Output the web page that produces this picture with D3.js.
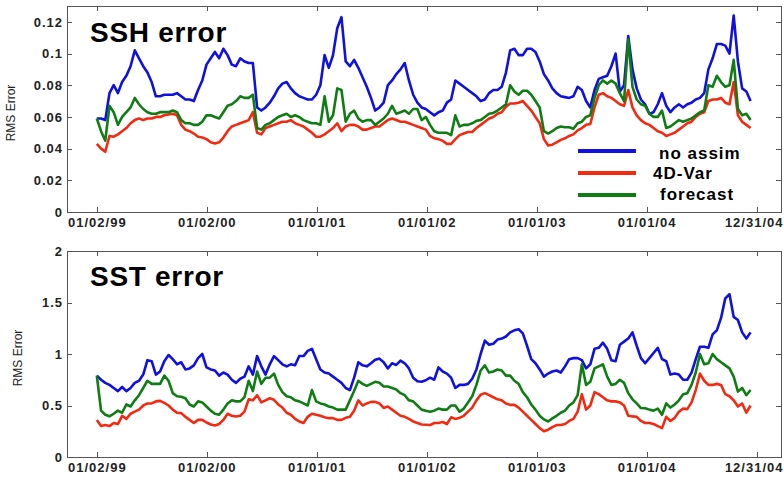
<!DOCTYPE html>
<meta charset='utf-8'>
<style>
    body {
        margin: 0;
        background: #fff;
    }

    svg {
        display: block;
        font-family: 'Liberation Sans', Arial, sans-serif;
    }

    .axis text {
        font-size: 13px;
        font-weight: bold;
        fill: #222;
        letter-spacing: 1px;
    }

    .axis line {
        stroke: #555;
        shape-rendering: crispEdges;
    }

    .axis path {
        display: none;
    }

    .frame {
        fill: none;
        stroke: #555;
        shape-rendering: crispEdges;
    }

    .series {
        fill: none;
        stroke-width: 2.6;
        stroke-linejoin: round;
    }
</style>
<body>
    <script src='https://d3js.org/d3.v7.min.js'></script>
    <script>
        // samples are two weeks apart, first one on 01/02/99
        const startDate = '1999-01-02', stepDays = 14;

        const tickDates = [ '1999-01-02', '2000-01-02', '2001-01-01', '2002-01-01', '2003-01-01', '2004-01-01', '2004-12-31' ];
        const tickLabels = [ '01/02/99', '01/02/00', '01/01/01', '01/01/02', '01/01/03', '01/01/04', '12/31/04' ];

        const sshTicks = [ 0, 0.02, 0.04, 0.06, 0.08, 0.1, 0.12 ];
        const sshTickLabels = [ '0', '0.02', '0.04', '0.06', '0.08', '0.1', '0.12' ];
        const sstTicks = [ 0, 0.5, 1, 1.5, 2 ];
        const sstTickLabels = [ '0', '0.5', '1', '1.5', '2' ];

        const seriesNames = [ 'no assim', '4D-Var', 'forecast' ];
        const seriesColors = {
            'no assim': '#1010e0',
            '4D-Var': '#f22a12',
            'forecast': '#0f7d13',
        };

        const sshNoAssim = [
            .059, .059, .058, .075, .080, .075, .082, .086, .092, .102,
            .097, .092, .088, .082, .073, .073, .074, .074, .074, .075,
            .073, .071, .071, .070, .077, .083, .093, .097, .101, .097,
            .103, .099, .093, .092, .097, .095, .094, .094, .066, .064,
            .066, .069, .073, .078, .081, .082, .078, .075, .073, .072,
            .071, .071, .074, .080, .099, .091, .099, .116, .123, .095,
            .092, .096, .091, .085, .079, .072, .064, .066, .069, .080,
            .083, .087, .090, .094, .083, .074, .069, .066, .065, .063,
            .061, .063, .064, .069, .071, .083, .081, .079, .077, .075,
            .073, .070, .071, .075, .077, .077, .079, .088, .102, .103,
            .099, .099, .103, .103, .101, .095, .087, .083, .078, .075,
            .073, .0725, .072, .073, .079, .077, .070, .066, .077, .084,
            .085, .086, .092, .100, .076, .080, .111, .090, .078, .071,
            .068, .062, .063, .068, .075, .067, .063, .066, .068, .066,
            .068, .069, .071, .072, .075, .090, .097, .106, .106, .105,
            .100, .124, .095, .078, .076, .070
        ];
        const sshFourDVar = [
            .043, .040, .038, .048, .0475, .049, .051, .053, .056, .058,
            .059, .058, .059, .059, .060, .060, .061, .0615, .062, .061,
            .055, .052, .051, .0495, .0475, .047, .046, .044, .0433, .044,
            .047, .051, .054, .055, .056, .057, .058, .063, .050, .049,
            .053, .054, .055, .056, .057, .057, .058, .056, .055, .054,
            .052, .050, .0475, .0475, .049, .051, .053, .056, .051, .054,
            .055, .055, .054, .052, .052, .053, .054, .054, .056, .058,
            .059, .058, .057, .057, .056, .055, .054, .053, .052, .048,
            .0465, .046, .045, .043, .043, .046, .0485, .0495, .0505, .0505,
            .053, .055, .057, .059, .060, .062, .063, .0665, .0685, .0685,
            .069, .070, .067, .064, .060, .056, .046, .042, .0425, .044,
            .0455, .0465, .048, .049, .0515, .053, .055, .0555, .066, .074,
            .075, .073, .072, .070, .068, .067, .077, .066, .061, .058,
            .056, .055, .053, .051, .050, .048, .049, .050, .052, .054,
            .056, .057, .060, .062, .063, .070, .071, .071, .072, .069,
            .068, .082, .061, .057, .055, .053
        ];
        const sshForecast = [
            .059, .051, .045, .067, .063, .055, .060, .063, .066, .072,
            .068, .065, .063, .062, .062, .063, .063, .063, .064, .063,
            .058, .056, .056, .055, .055, .057, .061, .061, .060, .059,
            .063, .067, .068, .070, .073, .072, .072, .074, .053, .052,
            .055, .056, .058, .060, .061, .062, .060, .061, .060, .058,
            .057, .056, .056, .055, .073, .057, .061, .078, .077, .057,
            .062, .064, .059, .057, .058, .058, .055, .057, .059, .062,
            .067, .062, .063, .064, .062, .065, .065, .058, .060, .055,
            .051, .050, .050, .050, .0485, .061, .054, .055, .055, .056,
            .0575, .058, .060, .062, .0625, .064, .066, .068, .080, .076,
            .074, .0765, .0765, .074, .070, .066, .051, .0495, .051, .053,
            .054, .0535, .0535, .0525, .056, .057, .060, .061, .072, .080,
            .083, .081, .083, .081, .075, .070, .109, .079, .071, .068,
            .067, .062, .060, .060, .064, .053, .054, .056, .058, .057,
            .058, .059, .061, .063, .064, .080, .079, .086, .082, .079,
            .080, .096, .065, .061, .062, .058
        ];

        const sstNoAssim = [
            .79, .75, .72, .70, .67, .64, .68, .64, .67, .72,
            .74, .80, .94, .93, .80, .83, .93, .99, .95, .90,
            .92, .85, .86, .89, .96, 1.0, .87, .85, .84, .79,
            .82, .80, .75, .72, .76, .78, .88, .80, .98, .88,
            .80, .90, .98, .94, .90, .88, .90, .89, .98, .98,
            1.03, 1.05, .95, .85, .82, .81, .78, .75, .72, .67,
            .65, .77, .92, .89, .88, .91, .945, .955, .92, .86,
            .91, .894, .935, .91, .86, .77, .735, .73, .745, .77,
            .75, .87, .83, .81, .77, .67, .70, .70, .71, .76,
            .85, 1.0, 1.13, 1.09, 1.10, 1.14, 1.15, 1.17, 1.21, 1.23,
            1.24, 1.20, 1.08, .95, .91, .85, .78, .81, .83, .84,
            .82, .88, .95, .96, .96, .94, .86, .90, 1.05, 1.06,
            1.11, 1.05, .94, .93, 1.09, 1.12, 1.15, 1.21, 1.08, .96,
            .91, .96, 1.01, 1.06, .95, .93, .80, .81, .80, .75,
            .75, .82, .95, 1.07, 1.07, 1.06, 1.19, 1.23, 1.35, 1.54,
            1.58, 1.36, 1.33, 1.21, 1.15, 1.21
        ];
        const sstFourDVar = [
            .36, .30, .31, .30, .33, .32, .40, .37, .42, .44,
            .46, .50, .52, .52, .54, .545, .525, .50, .46, .43,
            .426, .39, .36, .33, .36, .36, .335, .316, .306, .32,
            .36, .42, .40, .394, .40, .44, .56, .55, .60, .53,
            .55, .57, .555, .51, .48, .43, .41, .37, .345, .33,
            .39, .42, .41, .40, .385, .377, .377, .36, .36, .38,
            .39, .45, .55, .50, .52, .535, .535, .52, .476, .49,
            .46, .43, .40, .39, .37, .345, .33, .315, .313, .31,
            .33, .33, .34, .32, .385, .37, .38, .40, .44, .48,
            .55, .605, .62, .60, .58, .56, .55, .52, .506, .506,
            .48, .44, .40, .36, .32, .28, .25, .265, .29, .31,
            .31, .32, .35, .37, .44, .61, .46, .50, .63, .61,
            .58, .55, .54, .54, .53, .50, .40, .394, .39, .35,
            .33, .33, .32, .30, .28, .39, .35, .38, .44, .47,
            .465, .53, .65, .81, .74, .70, .70, .71, .70, .61,
            .59, .55, .49, .52, .43, .50
        ];
        const sstForecast = [
            .79, .45, .41, .395, .42, .45, .43, .51, .49, .55,
            .60, .67, .74, .71, .71, .71, .79, .74, .62, .59,
            .585, .57, .51, .49, .54, .53, .49, .45, .42, .41,
            .46, .52, .55, .54, .54, .58, .74, .64, .83, .71,
            .77, .77, .81, .70, .63, .59, .58, .55, .54, .52,
            .50, .65, .54, .52, .51, .49, .48, .46, .46, .46,
            .55, .64, .74, .71, .69, .71, .73, .72, .685, .684,
            .67, .655, .62, .60, .55, .54, .50, .46, .45, .44,
            .45, .47, .46, .46, .50, .50, .44, .47, .53, .59,
            .70, .84, .89, .82, .83, .85, .84, .79, .79, .74,
            .71, .63, .58, .51, .46, .40, .365, .345, .375, .40,
            .43, .45, .50, .53, .60, .90, .70, .73, .86, .88,
            .90, .78, .70, .71, .75, .72, .62, .56, .52, .475,
            .474, .46, .45, .47, .41, .52, .48, .51, .55, .61,
            .62, .70, .82, 1.0, .90, .91, 1.0, .95, .92, .89,
            .86, .78, .635, .67, .60, .65
        ];

        const width = 784, height = 478;
        const parseDate = d3.utcParse( '%Y-%m-%d' );
        const start = parseDate( startDate );
        const dates = sshNoAssim.map( ( d, i ) => d3.utcDay.offset( start, i * stepDays ) );

        let svg = d3.select( 'body' ).append( 'svg' )
            .attr( 'width', width )
            .attr( 'height', height );

        let x = d3.scaleUtc()
            .domain( [ parseDate( '1998-09-25' ), parseDate( '2005-03-22' ) ] )
            .range( [ 67, 781 ] );

        const panels = [
            {
                title: 'SSH error', top: 6, bottom: 212, max: 0.13,
                ticks: sshTicks, labels: sshTickLabels,
                series: { 'no assim': sshNoAssim, '4D-Var': sshFourDVar, 'forecast': sshForecast },
                titleY: 42, axisLabelX: 15, legend: true,
            },
            {
                title: 'SST error', top: 251, bottom: 457, max: 2,
                ticks: sstTicks, labels: sstTickLabels,
                series: { 'no assim': sstNoAssim, '4D-Var': sstFourDVar, 'forecast': sstForecast },
                titleY: 286, axisLabelX: 22, legend: false,
            },
        ];

        const tickDateValues = tickDates.map( parseDate );

        panels.forEach( p => {
            let y = d3.scaleLinear()
                .domain( [ 0, p.max ] )
                .range( [ p.bottom, p.top ] );

            let g = svg.append( 'g' ).attr( 'class', 'panel' );

            // Axes, ticks pointing inwards on all four sides
            let bottomAxis = g.append( 'g' )
                .attr( 'class', 'x axis' )
                .attr( 'transform', `translate( 0, ${p.bottom} )` )
                .call( d3.axisBottom( x )
                    .tickValues( tickDateValues )
                    .tickSizeInner( -5 ).tickSizeOuter( 0 )
                    .tickPadding( 6 )
                    .tickFormat( ( d, i ) => tickLabels[ i ] ) );

            // last label sits at the right edge, keep it inside the page
            bottomAxis.selectAll( '.tick:last-of-type text' )
                .attr( 'text-anchor', 'end' )
                .attr( 'x', function( d ) { return 783 - x( d ); } );

            g.append( 'g' )
                .attr( 'class', 'x axis' )
                .attr( 'transform', `translate( 0, ${p.top} )` )
                .call( d3.axisTop( x )
                    .tickValues( tickDateValues )
                    .tickSizeInner( -5 ).tickSizeOuter( 0 )
                    .tickFormat( '' ) );

            g.append( 'g' )
                .attr( 'class', 'y axis' )
                .attr( 'transform', 'translate( 67, 0 )' )
                .call( d3.axisLeft( y )
                    .tickValues( p.ticks )
                    .tickSizeInner( -5 ).tickSizeOuter( 0 )
                    .tickPadding( 4 )
                    .tickFormat( ( d, i ) => p.labels[ i ] ) );

            g.append( 'g' )
                .attr( 'class', 'y axis' )
                .attr( 'transform', 'translate( 781, 0 )' )
                .call( d3.axisRight( y )
                    .tickValues( p.ticks )
                    .tickSizeInner( -5 ).tickSizeOuter( 0 )
                    .tickFormat( '' ) );

            g.append( 'rect' )
                .attr( 'class', 'frame' )
                .attr( 'x', 67.5 )
                .attr( 'y', p.top + 0.5 )
                .attr( 'width', 781 - 67 )
                .attr( 'height', p.bottom - p.top );

            g.append( 'text' )
                .attr( 'transform', `translate( ${p.axisLabelX}, ${( p.top + p.bottom ) / 2 + 4} ) rotate( -90 )` )
                .style( 'text-anchor', 'middle' )
                .style( 'font-family', "'Liberation Sans Narrow', 'Arial Narrow', sans-serif" )
                .style( 'font-size', '12px' )
                .style( 'fill', '#222' )
                .text( 'RMS Error' );

            // Lines
            let line = d3.line()
                .x( ( d, i ) => x( dates[ i ] ) )
                .y( d => y( d ) );

            g.selectAll( '.series' )
                .data( seriesNames )
                .enter().append( 'path' )
                    .attr( 'class', 'series' )
                    .attr( 'stroke', d => seriesColors[ d ] )
                    .attr( 'd', d => line( p.series[ d ] ) );

            g.append( 'text' )
                .attr( 'x', 90 )
                .attr( 'y', p.titleY )
                .style( 'font-size', '28px' )
                .style( 'font-weight', 'bold' )
                .style( 'letter-spacing', '0.7px' )
                .style( 'fill', '#000' )
                .text( p.title );

            if ( !p.legend ) {
                return;
            }

            // Legend
            const legendRows = [ 151, 173, 195 ],
                legendTextX = [ 659, 653, 660 ],
                legendTextY = [ 158.5, 179, 199.5 ];
            let legend = g.selectAll( '.legend' )
                .data( seriesNames )
                .enter().append( 'g' )
                    .attr( 'class', 'legend' );

            legend.append( 'line' )
                .attr( 'x1', 578 )
                .attr( 'x2', 636 )
                .attr( 'y1', ( d, i ) => legendRows[ i ] )
                .attr( 'y2', ( d, i ) => legendRows[ i ] )
                .attr( 'stroke', d => seriesColors[ d ] )
                .attr( 'stroke-width', 4 );

            legend.append( 'text' )
                .attr( 'x', ( d, i ) => legendTextX[ i ] )
                .attr( 'y', ( d, i ) => legendTextY[ i ] )
                .style( 'font-size', '17px' )
                .style( 'font-weight', 'bold' )
                .style( 'letter-spacing', '1px' )
                .style( 'fill', '#000' )
                .text( d => d );
        } );
    </script>
</body>
